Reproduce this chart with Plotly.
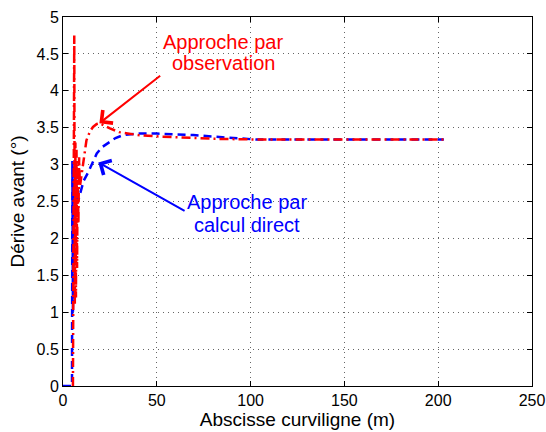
import plotly.graph_objects as go

# Data
obs_x = [5.3, 6.0, 6.3, 6.6, 6.9, 7.2, 7.5, 7.8, 8.2, 8.6, 9.0, 10, 11, 12.5, 14.4, 16, 18, 19.7, 22, 25, 30, 34, 40, 51.7, 60, 80, 103, 130, 160, 203]
obs_y = [0, 4.75, 1.1, 3.3, 1.2, 3.2, 1.6, 3.0, 2.2, 3.1, 2.7, 2.9, 3.1, 3.33, 3.45, 3.51, 3.55, 3.56, 3.53, 3.49, 3.44, 3.42, 3.40, 3.38, 3.37, 3.35, 3.34, 3.34, 3.34, 3.34]

calc_x = [0, 4.8, 5.0, 5.3, 5.6, 5.9, 6.2, 6.6, 7.0, 7.5, 8.2, 9.1, 11, 13.5, 16, 18, 21, 25, 28, 32.1, 40, 50, 60, 69.5, 85, 103, 150, 203]
calc_y = [0, 0, 3.05, 1.0, 2.9, 1.6, 3.0, 2.3, 2.8, 2.5, 2.52, 2.61, 2.78, 2.90, 3.05, 3.15, 3.24, 3.31, 3.36, 3.40, 3.42, 3.42, 3.41, 3.40, 3.37, 3.34, 3.34, 3.34]

x_ticks = [0, 50, 100, 150, 200, 250]
y_ticks = [0, 0.5, 1, 1.5, 2, 2.5, 3, 3.5, 4, 4.5, 5]
y_tick_labels = ["0", "0.5", "1", "1.5", "2", "2.5", "3", "3.5", "4", "4.5", "5"]

FONT = "Liberation Sans, Arial, Helvetica, sans-serif"

fig = go.Figure()
fig.add_trace(go.Scatter(x=calc_x, y=calc_y, mode="lines",
                         line=dict(color="#0000ff", width=2.5, dash="8px,5px"),
                         showlegend=False))
fig.add_trace(go.Scatter(x=obs_x, y=obs_y, mode="lines",
                         line=dict(color="#ff0000", width=2.5, dash="9px,4px,2px,4px"),
                         showlegend=False))

# Annotations: arrows
fig.add_annotation(x=19.4, y=3.56, ax=52.6, ay=4.22, xref="x", yref="y", axref="x", ayref="y",
                   text="", showarrow=True, arrowhead=4, arrowsize=1.6, arrowwidth=2,
                   arrowcolor="#ff0000", standoff=0)
fig.add_annotation(x=18.8, y=3.03, ax=65.6, ay=2.36, xref="x", yref="y", axref="x", ayref="y",
                   text="", showarrow=True, arrowhead=4, arrowsize=1.6, arrowwidth=2,
                   arrowcolor="#0000ff", standoff=0)

# Annotations: text lines
red_lines = ["Approche par", "observation"]
red_y = [4.66, 4.375]
blue_lines = ["Approche par", "calcul direct"]
blue_y = [2.49, 2.185]
for t, yy in zip(red_lines, red_y):
    fig.add_annotation(x=85.3, y=yy, xref="x", yref="y", text=t, showarrow=False,
                       font=dict(family=FONT, size=20, color="#ff0000"))
for t, yy in zip(blue_lines, blue_y):
    fig.add_annotation(x=98.3, y=yy, xref="x", yref="y", text=t, showarrow=False,
                       font=dict(family=FONT, size=20, color="#0000ff"))

axis_common = dict(showline=True, linecolor="black", linewidth=1, mirror="ticks",
                   ticks="inside", ticklen=5, tickcolor="black",
                   showgrid=True, gridcolor="rgba(0,0,0,0.6)", griddash="1px,4px", gridwidth=1,
                   zeroline=False, automargin=False,
                   tickfont=dict(family=FONT, size=16, color="black"))

fig.update_xaxes(range=[0, 250], tickvals=x_ticks,
                 title=dict(text="Abscisse curviligne (m)", font=dict(family=FONT, size=19, color="black"),
                            standoff=2),
                 **axis_common)
fig.update_yaxes(range=[0, 5], tickvals=y_ticks, ticktext=y_tick_labels,
                 title=dict(text="Dérive avant (°)", font=dict(family=FONT, size=19, color="black"),
                            standoff=6),
                 **axis_common)

fig.update_layout(width=546, height=432, margin=dict(l=63, r=14, t=17, b=46),
                  plot_bgcolor="white", paper_bgcolor="white")

fig.write_html("out.html", config={"displayModeBar": False},
               post_script="document.body.style.margin='0';document.body.style.overflow='hidden';")
